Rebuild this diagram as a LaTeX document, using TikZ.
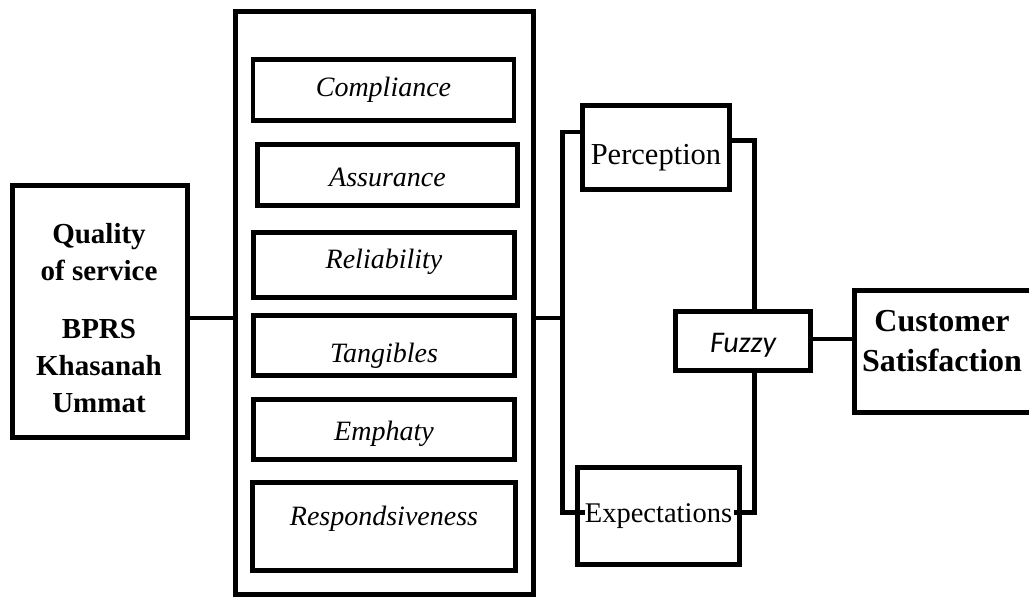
\documentclass[tikz,border=0pt]{standalone}
\usepackage{fontspec}
\setmainfont{Liberation Serif}
\newfontfamily\fuzzyfont{Carlito}
\usetikzlibrary{positioning}

\begin{document}
\begin{tikzpicture}[x=1pt, y=-1pt,
  box/.style={draw, line width=4.5pt, inner sep=0pt, align=center},
  dimbox/.style={box, minimum width=261pt, font=\fontsize{28}{34}\selectfont\itshape},
  link/.style={line width=4.5pt}]

\useasboundingbox (0,0) rectangle (1029,599);

\node[box, minimum width=175pt, minimum height=252pt] at (100, 311.5) (qual) {};
\node[align=center, inner sep=0pt, font=\fontsize{29}{37}\selectfont\bfseries] at (99, 318) (qualtext) {Quality\\of service\\[21pt]BPRS\\Khasanah\\Ummat};

\node[box, minimum width=298pt, minimum height=583pt] at (384.5, 303) (frame) {};

\node[dimbox, minimum height=61pt] at (383.5, 90) (comp) {Compliance};
\node[dimbox, minimum width=260pt, minimum height=61pt, text height=24pt, text depth=0pt] at (387.5, 175) (assu) {Assurance};
\node[dimbox, minimum height=65pt, text height=19pt, text depth=13pt] at (384, 265) (reli) {Reliability};
\node[dimbox, minimum height=60pt, text height=39pt, text depth=6pt] at (384, 345.5) (tang) {Tangibles};
\node[dimbox, minimum height=60pt, text height=27pt, text depth=6pt] at (384, 429.5) (emph) {Emphaty};
\node[dimbox, minimum width=263pt, minimum height=88pt, text height=19pt, text depth=22pt] at (384, 526.5) (resp) {Respondsiveness};

\node[box, minimum width=147pt, minimum height=84pt, text height=42pt, text depth=7pt, font=\fontsize{30.5}{36}\selectfont] at (656, 147.5) (perc) {Perception};
\node[box, minimum width=162pt, minimum height=97pt, font=\fontsize{28.5}{34}\selectfont] at (658.5, 516) (expe) {Expectations};
\node[box, minimum width=135pt, minimum height=59pt, text height=29.5pt, text depth=7.5pt, font=\fuzzyfont\fontsize{30}{36}\selectfont\itshape] at (743, 341) (fuzzy) {Fuzzy};
\node[box, minimum width=179.5pt, minimum height=122pt] at (944.25, 351.5) (cust) {};
\node[align=center, inner sep=0pt, font=\fontsize{32}{40}\selectfont\bfseries] at (942, 341) (custtext) {Customer\\Satisfaction};

\coordinate (j) at (0, 318);
\coordinate (lb) at (562.5, 0);
\coordinate (rb) at (754.5, 0);
\coordinate (ptop) at (0, 132);
\coordinate (pright) at (0, 140.5);
\coordinate (ebot) at (0, 512.5);
\coordinate (fz) at (0, 339);

\draw[link] (qual.east |- j) -- (frame.west |- j);
\draw[link] (frame.east |- j) -- (lb |- j);

% branch to perception / expectations
\draw[link] (perc.west |- ptop) -| (lb |- ebot) -- ([xshift=10pt]expe.west |- ebot);
\draw[link] (perc.east |- pright) -| (fuzzy.north -| rb);
\draw[link] (fuzzy.south -| rb) |- ([xshift=-8pt]expe.east |- ebot);

\draw[line width=4pt] (fuzzy.east |- fz) -- (cust.west |- fz);

\end{tikzpicture}
\end{document}
